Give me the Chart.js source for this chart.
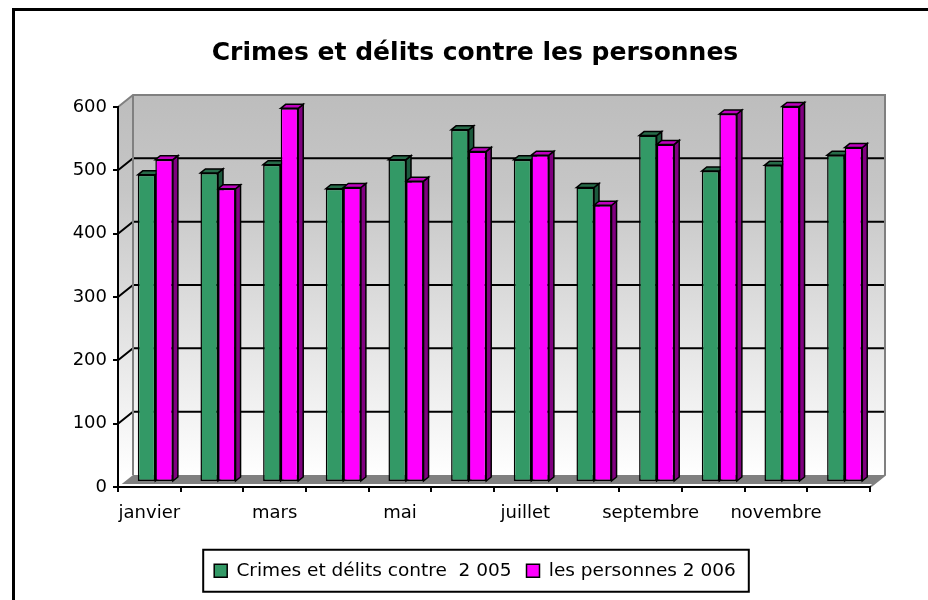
<!DOCTYPE html>
<html><head><meta charset="utf-8">
<script src="https://cdn.jsdelivr.net/npm/chart.js@4.4.1/dist/chart.umd.min.js"></script>
<style>
html,body{margin:0;padding:0;background:#fff;overflow:hidden;width:928px;height:600px}
#frame{position:absolute;left:12px;top:8px;width:1000px;height:700px;border-left:3px solid #000;border-top:3px solid #000}
#c{position:absolute;left:15px;top:11px}
</style></head><body>
<div id="frame"></div>
<canvas id="c" width="920" height="589"></canvas>
<script>
const titleText = 'Crimes et délits contre les personnes';
const categories = ['janvier','février','mars','avril','mai','juin','juillet','août','septembre','octobre','novembre','décembre'];
const tickLabels = ['janvier','','mars','','mai','','juillet','','septembre','','novembre',''];
const seriesNames = ['Crimes et délits contre  2 005','les personnes 2 006'];
const values2005 = [485, 488, 501, 463, 509, 556, 509, 465, 547, 491, 500, 516];
const values2006 = [509, 463, 590, 465, 475, 522, 516, 437, 533, 581, 593, 528];
const yMin = 0, yMax = 600, yStep = 100;

const frontColors = ['#339966', '#FF00FF'];
const sideColors = ['#1c5a3d', '#800080'];
const topColors = ['#276b49', '#c000c0'];
const WALL = {dx: 15, dy: -12};
const BAR_SHIFT = {dx: 6, dy: -5};
const BAR_DEPTH = {dx: 5, dy: -4};

Chart.defaults.font.family = 'DejaVu Sans';
Chart.defaults.color = '#000';

const box3d = {
  id: 'box3d',
  beforeDraw(chart) {
    const {ctx, chartArea: a, scales: {y}} = chart;
    const bl = a.left + WALL.dx, br = a.right + WALL.dx, bt = a.top + WALL.dy, bb = a.bottom + WALL.dy;
    ctx.save();
    const g = ctx.createLinearGradient(0, bt, 0, bb);
    g.addColorStop(0, '#bdbdbd');
    g.addColorStop(0.25, '#c6c6c6');
    g.addColorStop(1, '#ffffff');
    ctx.fillStyle = g;
    ctx.fillRect(bl, bt, br - bl, bb - bt);
    ctx.beginPath();
    ctx.moveTo(a.left, a.top); ctx.lineTo(bl, bt); ctx.lineTo(bl, bb); ctx.lineTo(a.left, a.bottom);
    ctx.closePath(); ctx.fill();
    const f = 0.25;
    ctx.fillStyle = '#808080';
    ctx.beginPath();
    ctx.moveTo(bl, bb); ctx.lineTo(br, bb);
    ctx.lineTo(a.right + WALL.dx * f, a.bottom + WALL.dy * f);
    ctx.lineTo(a.left + WALL.dx * f, a.bottom + WALL.dy * f);
    ctx.closePath(); ctx.fill();
    ctx.lineWidth = 2; ctx.strokeStyle = '#000';
    y.ticks.forEach(t => {
      if (t.value <= y.min || t.value >= y.max) return;
      const py = y.getPixelForValue(t.value);
      ctx.beginPath();
      ctx.moveTo(a.left, py); ctx.lineTo(bl, py + WALL.dy); ctx.lineTo(br, py + WALL.dy);
      ctx.stroke();
    });
    ctx.strokeStyle = '#808080'; ctx.lineWidth = 2;
    ctx.beginPath();
    ctx.moveTo(a.left, a.top); ctx.lineTo(bl, bt); ctx.lineTo(br, bt); ctx.lineTo(br, bb); ctx.lineTo(a.right, a.bottom);
    ctx.moveTo(bl, bt); ctx.lineTo(bl, bb);
    ctx.stroke();
    ctx.restore();
  },
  beforeDatasetsDraw(chart) {
    const ctx = chart.ctx;
    ctx.save();
    ctx.translate(BAR_SHIFT.dx, BAR_SHIFT.dy);
    chart.data.datasets.forEach((ds, i) => {
      const meta = chart.getDatasetMeta(i);
      meta.data.forEach(el => {
        const {x, y, base, width} = el.getProps(['x', 'y', 'base', 'width'], true);
        const L = x - width / 2, R = x + width / 2;
        ctx.lineWidth = 1.5; ctx.strokeStyle = '#000';
        ctx.fillStyle = sideColors[i];
        ctx.beginPath();
        ctx.moveTo(R, y); ctx.lineTo(R + BAR_DEPTH.dx, y + BAR_DEPTH.dy);
        ctx.lineTo(R + BAR_DEPTH.dx, base + BAR_DEPTH.dy); ctx.lineTo(R, base);
        ctx.closePath(); ctx.fill(); ctx.stroke();
        ctx.fillStyle = topColors[i];
        ctx.beginPath();
        ctx.moveTo(L, y); ctx.lineTo(L + BAR_DEPTH.dx, y + BAR_DEPTH.dy);
        ctx.lineTo(R + BAR_DEPTH.dx, y + BAR_DEPTH.dy); ctx.lineTo(R, y);
        ctx.closePath(); ctx.fill(); ctx.stroke();
      });
    });
  },
  afterDatasetsDraw(chart) { chart.ctx.restore(); },
  afterDraw(chart) {
    const ctx = chart.ctx;
    const hb = chart.legend.legendHitBoxes;
    if (!hb || !hb.length) return;
    const minL = Math.min(...hb.map(h => h.left));
    const maxR = Math.max(...hb.map(h => h.left + h.width));
    const cy = hb[0].top + hb[0].height / 2;
    ctx.save();
    ctx.strokeStyle = '#000'; ctx.lineWidth = 2;
    ctx.strokeRect(minL - 11, cy - 21, maxR - minL + 24, 42);
    ctx.restore();
  }
};

new Chart(document.getElementById('c'), {
  type: 'bar',
  data: {
    labels: categories,
    datasets: [
      {label: seriesNames[0], data: values2005, backgroundColor: frontColors[0], borderColor: '#000', borderWidth: 1.5, borderSkipped: false, categoryPercentage: 0.56, barPercentage: 1, clip: false},
      {label: seriesNames[1], data: values2006, backgroundColor: frontColors[1], borderColor: '#000', borderWidth: 1.5, borderSkipped: false, categoryPercentage: 0.56, barPercentage: 1, clip: false}
    ]
  },
  options: {
    responsive: false, animation: false, devicePixelRatio: 1,
    layout: {padding: {left: 0, right: 0, top: 0, bottom: 10}},
    plugins: {
      title: {display: true, text: titleText, color: '#000', font: {family: 'DejaVu Sans', size: 25, weight: 'bold'}, padding: {top: 27, bottom: 39}},
      legend: {position: 'bottom', labels: {color: '#000', font: {size: 18.5}, boxWidth: 13, boxHeight: 13, padding: 15}},
      tooltip: {enabled: false}
    },
    scales: {
      x: {
        offset: true,
        grid: {display: true, drawOnChartArea: false, drawTicks: true, tickLength: 5, color: '#000', lineWidth: 2, offset: true},
        border: {display: true, color: '#000', width: 2},
        ticks: {color: '#000', font: {size: 18}, padding: 11, autoSkip: false, maxRotation: 0, callback: (v, i) => tickLabels[i]},
        afterFit: s => { s.height = 59.5; }
      },
      y: {
        min: yMin, max: yMax,
        ticks: {stepSize: yStep, color: '#000', font: {size: 18}, padding: 6},
        grid: {drawOnChartArea: false, tickLength: 5, color: '#000', lineWidth: 2},
        border: {display: true, color: '#000', width: 2},
        afterFit: s => { s.width = 103; }
      },
      spacer: {
        position: 'right', min: yMin, max: yMax,
        ticks: {display: false},
        grid: {display: false},
        border: {display: false},
        afterFit: s => { s.width = 65; }
      }
    }
  },
  plugins: [box3d]
});
</script>
</body></html>
